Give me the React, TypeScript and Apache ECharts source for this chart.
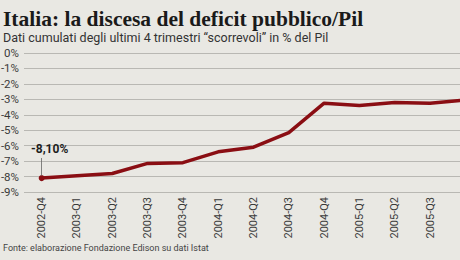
import React, { useEffect, useRef } from "react";
import * as echarts from "echarts";

const categories = [
  "2002-Q4", "2003-Q1", "2003-Q2", "2003-Q3", "2003-Q4", "2004-Q1", "2004-Q2",
  "2004-Q3", "2004-Q4", "2005-Q1", "2005-Q2", "2005-Q3", "2005-Q4",
];
const deficit = [-8.1, -7.95, -7.8, -7.15, -7.1, -6.4, -6.1, -5.15, -3.25, -3.4, -3.2, -3.25, -3.05];
const yTicks = { min: -9, max: 0, interval: 1 };
const firstLabel = "-8,10%";

const title = "Italia: la discesa del deficit pubblico/Pil";
const subtitle = "Dati cumulati degli ultimi 4 trimestri \u201cscorrevoli\u201d in % del Pil";
const source = "Fonte: elaborazione Fondazione Edison su dati Istat";

export default function App() {
  const ref = useRef<HTMLDivElement>(null);
  useEffect(() => {
    if (!ref.current) return;
    const chart = echarts.init(ref.current, null, { renderer: "svg" });
    const data = deficit.map((v, i) =>
      i === 0
        ? {
            value: v,
            symbol: "circle",
            symbolSize: 6,
            label: {
              show: true,
              position: "top",
              offset: [8, -15],
              formatter: firstLabel,
              fontFamily: "Roboto, 'Noto Sans', sans-serif",
              fontWeight: "bold",
              fontSize: 12,
              color: "#1e1e1e",
            },
          }
        : { value: v }
    );
    chart.setOption({
      animation: false,
      backgroundColor: "#e9e8e3",
      title: [
        {
          text: title,
          left: 3,
          top: 8,
          padding: 0,
          textStyle: {
            fontFamily: "'Liberation Serif', serif",
            fontWeight: "bold",
            fontSize: 21.5,
            lineHeight: 22,
            color: "#1a1a1a",
          },
        },
        {
          text: subtitle,
          left: 3,
          top: 30,
          padding: 0,
          textStyle: {
            fontFamily: "Roboto, 'Noto Sans', sans-serif",
            fontWeight: "normal",
            fontSize: 12.5,
            lineHeight: 14,
            color: "#333",
          },
        },
        {
          text: source,
          left: 3,
          top: 243,
          padding: 0,
          textStyle: {
            fontFamily: "Roboto, 'Noto Sans', sans-serif",
            fontWeight: "normal",
            fontSize: 9,
            lineHeight: 10,
            color: "#444",
          },
        },
      ],
      grid: {
        left: 24,
        width: 459,
        top: 53,
        height: 139,
        containLabel: false,
        outerBoundsMode: "none",
      },
      xAxis: {
        type: "category",
        data: categories,
        boundaryGap: true,
        axisLine: { show: false },
        axisTick: { show: false },
        axisLabel: {
          rotate: 90,
          margin: 5,
          fontFamily: "Roboto, 'Noto Sans', sans-serif",
          fontSize: 11,
          color: "#3a3a3a",
          interval: (i: number) => i < categories.length - 1,
        },
      },
      yAxis: {
        type: "value",
        min: yTicks.min,
        max: yTicks.max,
        interval: yTicks.interval,
        axisLine: { show: false },
        axisTick: { show: false },
        splitLine: { lineStyle: { color: "#b9b8b3", width: 1 } },
        axisLabel: {
          margin: 5,
          formatter: (v: number) => `${v}%`,
          fontFamily: "Roboto, 'Noto Sans', sans-serif",
          fontSize: 11.5,
          lineHeight: 12,
          color: "#3a3a3a",
        },
      },
      series: [
        {
          type: "line",
          data,
          symbol: "none",
          itemStyle: { color: "#8a0e13" },
          lineStyle: { color: "#8a0e13", width: 3.5, cap: "round", join: "round" },
          markLine: {
            silent: true,
            symbol: "none",
            label: { show: false },
            lineStyle: { color: "#666", width: 0.8, type: "solid" },
            data: [
              [
                { coord: [categories[0], -7.95] },
                { coord: [categories[0], -6.8] },
              ],
            ],
          },
        },
      ],
    });
    return () => chart.dispose();
  }, []);
  return (
    <div
      ref={ref}
      style={{ position: "fixed", left: 0, top: 0, width: 460, height: 260 }}
    />
  );
}
